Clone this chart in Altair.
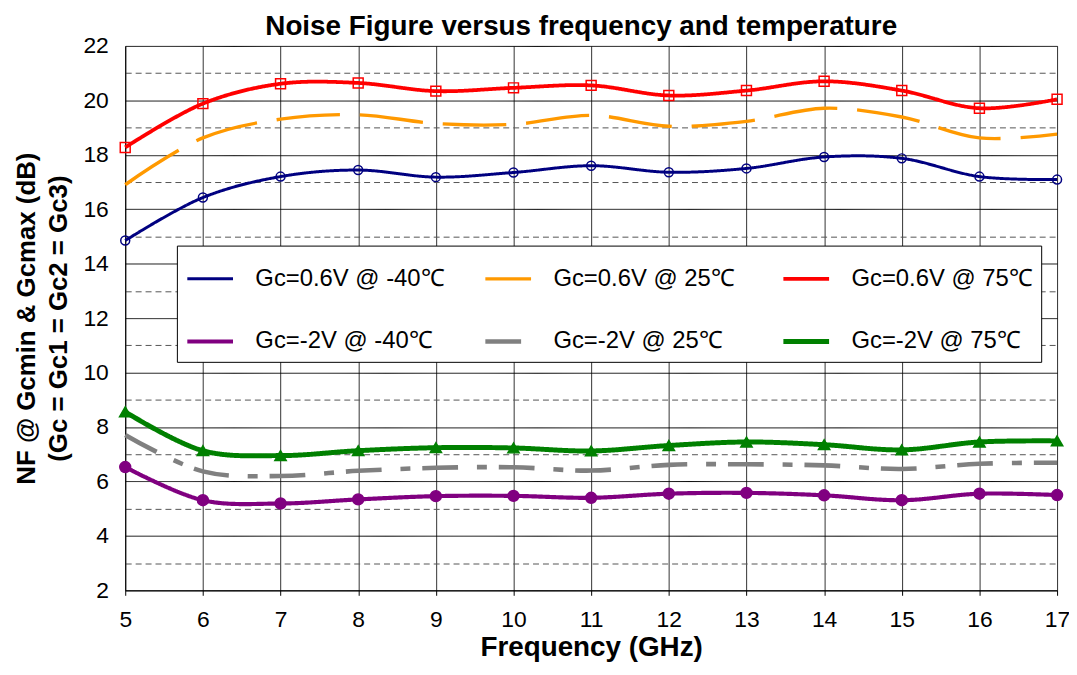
import altair as alt
import pandas as pd

# ---- data ----
freq = [5, 6, 7, 8, 9, 10, 11, 12, 13, 14, 15, 16, 17]
series = ["Gc=0.6V @ -40℃", "Gc=0.6V @ 25℃", "Gc=0.6V @ 75℃",
          "Gc=-2V @ -40℃", "Gc=-2V @ 25℃", "Gc=-2V @ 75℃"]
nf_06_m40 = [14.85, 16.43, 17.20, 17.44, 17.18, 17.35, 17.60, 17.36, 17.50, 17.92, 17.87, 17.20, 17.09]
nf_06_25 = [16.90, 18.62, 19.31, 19.47, 19.15, 19.12, 19.45, 19.05, 19.23, 19.71, 19.39, 18.62, 18.76]
nf_06_75 = [18.27, 19.88, 20.61, 20.64, 20.34, 20.46, 20.55, 20.18, 20.36, 20.70, 20.36, 19.71, 20.04]
nf_m2_m40 = [6.53, 5.31, 5.19, 5.34, 5.46, 5.47, 5.40, 5.55, 5.58, 5.49, 5.31, 5.55, 5.50]
nf_m2_25 = [7.71, 6.37, 6.20, 6.39, 6.50, 6.52, 6.40, 6.61, 6.63, 6.59, 6.46, 6.65, 6.69]
nf_m2_75 = [8.56, 7.13, 6.95, 7.13, 7.24, 7.23, 7.12, 7.32, 7.45, 7.35, 7.16, 7.45, 7.49]
values = [nf_06_m40, nf_06_25, nf_06_75, nf_m2_m40, nf_m2_25, nf_m2_75]
y_ticks = list(range(2, 23))
x_ticks = freq

# ---- styles ----
line_colors = ["#000080", "#ff9900", "#ff0000", "#800080", "#808080", "#008000"]
dashes = [[1, 0], [64, 20], [1, 0], [1, 0], [36, 19, 10, 12], [1, 0]]
widths = [3, 5, 3, 3, 5, 3]
markers = [  # (series index, shape, size, filled)
    (0, "circle", 81, False),
    (2, "square", 100, False),
    (3, "circle", 121, True),
    (5, "triangle-up", 130, True),
]

rows = []
for s, vals in zip(series, values):
    for f, v in zip(freq, vals):
        rows.append({"freq": f, "nf": v, "series": s})
df = pd.DataFrame(rows)

FONT = "Liberation Sans"
xscale = alt.Scale(domain=[5, 17], nice=False)
yscale = alt.Scale(domain=[2, 22], nice=False)
stroke_scale = alt.Scale(domain=series, range=line_colors)

x_axis = alt.Axis(
    values=x_ticks, title="Frequency (GHz)", titleFontSize=28, titleFontWeight="bold",
    titleFont=FONT, titlePadding=3, labelFont=FONT, labelFontSize=23, labelColor="black",
    labelPadding=13, labelFlush=False, tickSize=5, tickColor="black", domainColor="black",
    domainWidth=1, gridColor="#333333", gridWidth=1, titleColor="black", orient="bottom")
y_axis = alt.Axis(
    values=y_ticks, labelExpr="datum.value % 2 === 0 ? datum.label : ''",
    title=["NF @ Gcmin & Gcmax (dB)", "(Gc = Gc1 = Gc2 = Gc3)"], titleFontSize=26,
    titleLineHeight=32, titleFontWeight="bold", titleFont=FONT,
    titleColor="black", titlePadding=12, orient="left",
    labelFont=FONT, labelFontSize=23, labelColor="black", labelPadding=17, ticks=False,
    domainColor="black", domainWidth=1,
    gridColor={"condition": {"test": "datum.value % 2 === 1", "value": "#555555"}, "value": "#000000"},
    gridDash={"condition": {"test": "datum.value % 2 === 1", "value": [6, 4]}, "value": [1, 0]},
    gridWidth=1)
X = alt.X("freq:Q", scale=xscale, axis=x_axis)
Y = alt.Y("nf:Q", scale=yscale, axis=y_axis)

base = alt.Chart(df)

lines = base.mark_line(interpolate="catmull-rom").encode(
    x=X,
    y=Y,
    stroke=alt.Stroke("series:N", scale=stroke_scale, legend=alt.Legend(
        title=None, orient="none", legendX=52, legendY=201, columns=3, direction="horizontal",
        gridAlign="all", symbolType="stroke", symbolSize=2116, symbolStrokeWidth=3,
        labelFont=FONT, labelFontSize=24, labelColor="black", labelOffset=20, padding=8,
        rowPadding=25, columnPadding=30, fillColor="white", strokeColor="black",
        labelLimit=400)),
    strokeDash=alt.StrokeDash("series:N", scale=alt.Scale(domain=series, range=dashes), legend=None),
    strokeWidth=alt.StrokeWidth("series:N", scale=alt.Scale(domain=series, range=widths), legend=None),
    detail="series:N",
)

marker_layers = []
for idx, shp, size, filled in markers:
    m = base.transform_filter(alt.datum.series == series[idx]).mark_point(
        shape=shp, size=size, filled=False, opacity=1, strokeWidth=1.5,
        fill=line_colors[idx] if filled else "transparent",
        stroke=line_colors[idx],
    ).encode(x=X, y=Y)
    marker_layers.append(m)

chart = alt.layer(lines, *marker_layers).properties(
    width=938, height=548,
    autosize=alt.AutoSizeParams(type="none"),
    padding={"left": 118, "top": 36, "right": 12, "bottom": 75},
    title=alt.TitleParams("Noise Figure versus frequency and temperature", fontSize=28,
                          fontWeight="bold", font=FONT, color="black", anchor="middle",
                          baseline="alphabetic", offset=12, dx=-10, dy=40),
).configure_view(stroke="#8c8c8c", strokeWidth=2).configure(background="white")

chart.save("out.html", embed_options={"renderer": "svg", "actions": False})
